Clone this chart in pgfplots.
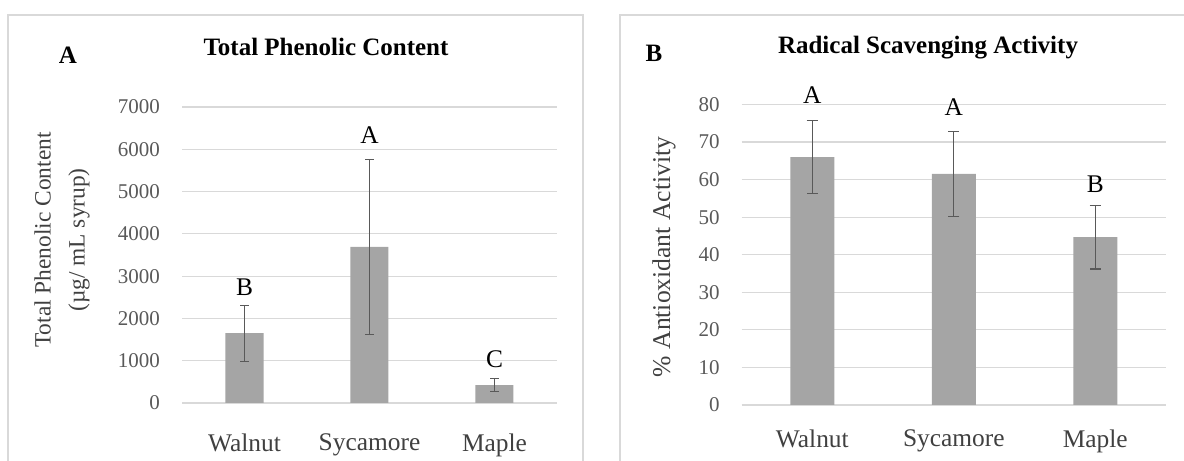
\documentclass[border=0pt]{standalone}
\usepackage{pgfplots}
\pgfplotsset{compat=1.18}
\usepackage{fontspec}
\setmainfont{Liberation Serif}
\definecolor{barcol}{HTML}{A5A5A5}
\definecolor{gridcol}{HTML}{D9D9D9}
\definecolor{tickcol}{HTML}{595959}
\definecolor{errcol}{HTML}{595959}
\definecolor{labcol}{HTML}{404040}

\pgfplotsset{
  panelstyle/.style={
    scale only axis, anchor=south west,
    xmin=-0.5, xmax=2.5, ymin=0,
    xtick={0,1,2}, xticklabels={Walnut,Sycamore,Maple},
    ymajorgrids, major grid style={gridcol, line width=0.6bp},
    axis line style={draw=none},
    major tick length=0pt,
    /pgf/number format/assume math mode=true,
    /pgf/number format/set thousands separator={},
    yticklabel style={font=\fontsize{10.5bp}{12bp}\selectfont, text=tickcol, xshift=-7.5bp},
    xticklabel style={font=\fontsize{12.7bp}{14bp}\selectfont, text=labcol, yshift=-9bp},
    clip=false,
  },
}

\begin{document}
\begin{tikzpicture}
\path[use as bounding box] (0bp,0bp) rectangle (592bp,230.5bp);
\clip (0bp,0bp) rectangle (592bp,230.5bp);
\draw[gridcol, line width=0.7bp] (4bp,-5bp) rectangle (291.5bp,223bp);
\draw[gridcol, line width=0.7bp] (310bp,-5bp) rectangle (600bp,223bp);

% Panel A
\begin{axis}[panelstyle,
  at={(91bp,29bp)}, width=187.5bp, height=148bp,
  ymax=7000, ytick={0,1000,...,7000},
  xticklabel style={yshift=-3bp},
]
\addplot[ybar, bar width=19bp, fill=barcol, draw=none,
  error bars/.cd, y dir=both, y explicit,
  error bar style={line width=0.6bp, color=errcol},
  error mark options={rotate=90, mark size=2bp, line width=0.6bp, color=errcol}]
  coordinates {(0,1650) +- (0,665) (1,3690) +- (0,2065) (2,420) +- (0,155)};
\node[font=\fontsize{12.7bp}{14bp}\selectfont] at (axis cs:0,2742) {B};
\node[font=\fontsize{12.7bp}{14bp}\selectfont] at (axis cs:1,6328) {A};
\node[font=\fontsize{12.7bp}{14bp}\selectfont] at (axis cs:2,1024) {C};
\end{axis}

% Panel B
\begin{axis}[panelstyle,
  at={(370.8bp,28bp)}, width=212.2bp, height=150.25bp,
  ymax=80, ytick={0,10,...,80},
]
\addplot[ybar, bar width=22bp, fill=barcol, draw=none,
  error bars/.cd, y dir=both, y explicit,
  error bar style={line width=0.6bp, color=errcol},
  error mark options={rotate=90, mark size=2.8bp, line width=0.6bp, color=errcol}]
  coordinates {(0,66.0) +- (0,9.7) (1,61.5) +- (0,11.4) (2,44.7) +- (0,8.5)};
\node[font=\fontsize{12.7bp}{14bp}\selectfont] at (axis cs:0,82.5) {A};
\node[font=\fontsize{12.7bp}{14bp}\selectfont] at (axis cs:1,79.2) {A};
\node[font=\fontsize{12.7bp}{14bp}\selectfont] at (axis cs:2,58.8) {B};
\end{axis}

% titles and labels
\node[font=\bfseries\fontsize{12.5bp}{14bp}\selectfont] at (163bp,207bp) {Total Phenolic Content};
\node[font=\bfseries\fontsize{12.5bp}{14bp}\selectfont] at (34bp,203bp) {A};
\node[font=\bfseries\fontsize{12.5bp}{14bp}\selectfont] at (464bp,206.5bp) {Radical Scavenging Activity};
\node[font=\bfseries\fontsize{12.5bp}{14bp}\selectfont] at (327bp,204bp) {B};
\node[rotate=90, align=center, text=labcol, font=\fontsize{11.7bp}{17bp}\selectfont] at (31bp,110.5bp) {Total Phenolic Content\\(µg/ mL syrup)};
\node[rotate=90, text=labcol, font=\fontsize{12.8bp}{14bp}\selectfont] at (332bp,102bp) {\% Antioxidant Activity};
\end{tikzpicture}
\end{document}
